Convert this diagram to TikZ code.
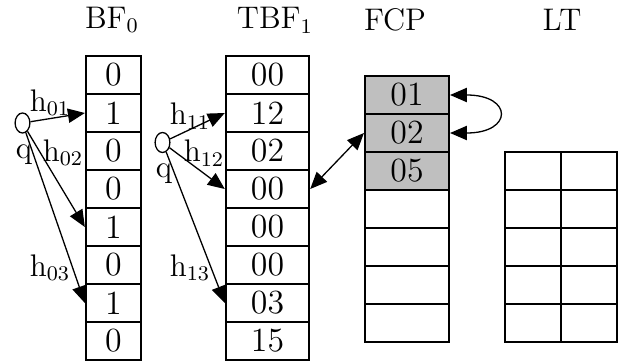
\documentclass[tikz,border=0pt]{standalone}
\usepackage{tikz}
\usetikzlibrary{arrows.meta,shapes.geometric}

\begin{document}
\begin{tikzpicture}[x=0.0135cm,y=-0.0135cm,
        cell/.style={draw,line width=0.7pt,minimum height=0.513cm,inner sep=0,font=\fontsize{13}{15}\selectfont},
        hole/.style={draw,shape=ellipse,line width=0.5pt,minimum width=0.2cm,minimum height=0.27cm,inner sep=0},
        lbl/.style={font=\fontsize{12}{14}\selectfont,inner sep=0},
        ttl/.style={font=\fontsize{12}{14}\selectfont,inner sep=0},
        ptr/.style={line width=0.5pt,-{Triangle[length=6.5pt,width=5.5pt]}},
        dptr/.style={line width=0.5pt,{Triangle[length=6.5pt,width=5.5pt]}-{Triangle[length=6.5pt,width=5.5pt]}}]
        \useasboundingbox (0,0) rectangle (623,360);
        % titles
        \node[ttl] (tbf0) at (112,20) {BF\textsubscript{0}};
        \node[ttl] (ttbf1) at (275,20) {TBF\textsubscript{1}};
        \node[ttl] (tfcp) at (395,20) {FCP};
        \node[ttl] (tlt) at (562,20) {LT};
        % tables
        \foreach \v [count=\i] in {0,1,0,0,1,0,1,0}
            \node[cell,minimum width=0.749cm] (bf\i) at (113.5,{37+38*\i}) {\v};
        \foreach \v [count=\i] in {00,12,02,00,00,00,03,15}
            \node[cell,minimum width=1.129cm] (tbf\i) at (267.5,{37+38*\i}) {\v};
        \foreach \v [count=\i] in {01,02,05}
            \node[cell,fill=gray!50,minimum width=1.138cm] (fcp\i) at (407,{57+38*\i}) {\v};
        \foreach \i in {4,...,7}
            \node[cell,minimum width=1.138cm] (fcp\i) at (407,{57+38*\i}) {};
        \foreach \i in {1,...,5}
            \foreach \c [count=\j] in {533,589}
                \node[cell,minimum width=0.756cm] (lt\i\j) at (\c,{133+38*\i}) {};
        % queries
        \node[hole] (q0) at (22.5,123) {};
        \node[hole] (q1) at (162.5,142.5) {};
        \node[lbl] (q0l) at (24,155) {q};
        \node[lbl] (q1l) at (164,174) {q};
        \draw[ptr] (q0) -- (bf2.west);
        \draw[ptr] (q0) -- (bf5.west);
        \draw[ptr] (q0) -- (bf7.west);
        \draw[ptr] (q1) -- (tbf2.west);
        \draw[ptr] (q1) -- (tbf4.west);
        \draw[ptr] (q1) -- (tbf7.west);
        \node[lbl] (h01) at (50,103) {h\textsubscript{01}};
        \node[lbl] (h02) at (63,153) {h\textsubscript{02}};
        \node[lbl] (h03) at (50,268) {h\textsubscript{03}};
        \node[lbl] (h11) at (190,116) {h\textsubscript{11}};
        \node[lbl] (h12) at (204,153) {h\textsubscript{12}};
        \node[lbl] (h13) at (190,268) {h\textsubscript{13}};
        % links to FCP
        \draw[dptr] (tbf4.east) -- (fcp2.west);
        \draw[dptr] (fcp1.east) .. controls +(63,0) and +(63,0) .. (fcp2.east);
\end{tikzpicture}
\end{document}
